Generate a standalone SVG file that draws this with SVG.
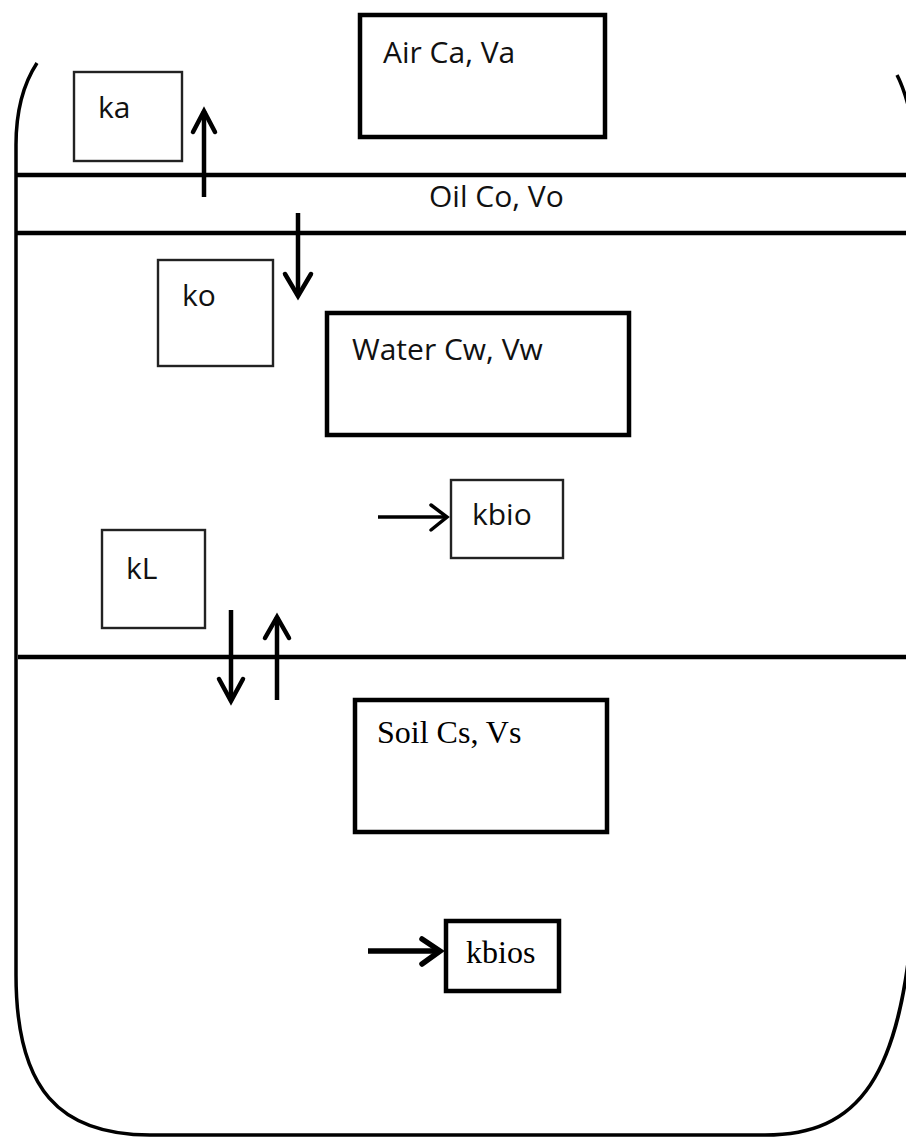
<svg xmlns="http://www.w3.org/2000/svg" width="906" height="1138" viewBox="0 0 906 1138">
  <defs>
    <style>
      .outline { fill: none; stroke: #000; stroke-width: 3.5; }
      .layer { stroke: #000; stroke-width: 4.5; }
      .thin { fill: #fff; stroke: #222; stroke-width: 2.4; }
      .thick { fill: #fff; stroke: #000; stroke-width: 4.5; }
      .sans { font-family: "Open Sans", "Noto Sans", sans-serif; font-size: 30px; fill: #111; }
      .serif { font-family: "Liberation Serif", "Times New Roman", serif; font-size: 32px; fill: #000; }
      .arrow { fill: none; stroke: #000; stroke-width: 4.5; stroke-linecap: butt; }
      .head { fill: none; stroke: #000; stroke-width: 4.5; stroke-linecap: round; stroke-linejoin: miter; }
    </style>
  </defs>
  <rect width="906" height="1138" fill="#fff"/>

  <g id="vessel">
    <path class="outline" d="M 37 63 Q 16 95 16 145 L 16 975 C 16 1090 60 1135 150 1135 L 765 1135 C 858 1135 903 1080 914 900"/>
    <path class="outline" d="M 897 75 Q 906 92 914 130"/>
  </g>

  <g id="layers">
    <line class="layer" x1="16" y1="175" x2="906" y2="175"/>
    <line class="layer" x1="16" y1="233" x2="906" y2="233"/>
    <line class="layer" x1="18" y1="657" x2="906" y2="657"/>
  </g>

  <g id="air">
    <rect class="thick" x="360" y="15" width="245" height="122"/>
    <text class="sans" x="383" y="63">Air Ca, Va</text>
  </g>

  <g id="oil">
    <text class="sans" x="429" y="207">Oil Co, Vo</text>
  </g>

  <g id="ka">
    <rect class="thin" x="74" y="72" width="108" height="89"/>
    <text class="sans" x="98" y="118">ka</text>
  </g>

  <g id="ko">
    <rect class="thin" x="158" y="260" width="115" height="106"/>
    <text class="sans" x="182" y="306">ko</text>
  </g>

  <g id="water">
    <rect class="thick" x="327" y="313" width="302" height="122"/>
    <text class="sans" x="352" y="360">Water Cw, Vw</text>
  </g>

  <g id="kbio">
    <rect class="thin" x="451" y="480" width="112" height="78"/>
    <text class="sans" x="472" y="525">kbio</text>
  </g>

  <g id="kL">
    <rect class="thin" x="102" y="530" width="103" height="98"/>
    <text class="sans" x="126" y="579">kL</text>
  </g>

  <g id="soil">
    <rect class="thick" x="355" y="700" width="252" height="132"/>
    <text class="serif" x="377" y="743">Soil Cs, Vs</text>
  </g>

  <g id="kbios">
    <rect class="thick" x="446" y="921" width="113" height="70"/>
    <text class="serif" x="466" y="963">kbios</text>
  </g>

  <g id="connectors">
    <line class="arrow" x1="204" y1="197" x2="204" y2="111"/>
    <polyline class="head" points="193,132 204,111 215,132"/>
    <line class="arrow" x1="298" y1="213" x2="298" y2="296"/>
    <polyline class="head" points="285,274 298,296 311,274"/>
    <line class="arrow" x1="378" y1="517" x2="447" y2="517" style="stroke-width:3.5"/>
    <polyline class="head" points="431,505 447,517 431,530" style="stroke-width:3.5"/>
    <line class="arrow" x1="231" y1="610" x2="231" y2="701"/>
    <polyline class="head" points="219,679 231,701 243,679"/>
    <line class="arrow" x1="277" y1="700" x2="277" y2="617"/>
    <polyline class="head" points="265,638 277,617 289,638"/>
    <line class="arrow" x1="368" y1="951" x2="440" y2="951" style="stroke-width:5.5"/>
    <polyline class="head" points="422,939 440,951 422,964" style="stroke-width:5.5"/>
  </g>
</svg>
